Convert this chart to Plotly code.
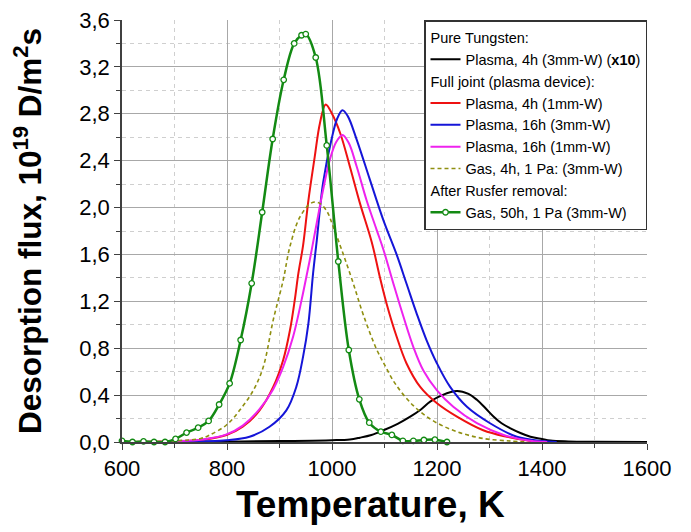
import plotly.graph_objects as go

# Temperature (K) and desorption flux (10^19 D/m2s)
t_black = [600, 700, 800, 900, 1000, 1034, 1053, 1075, 1098, 1125, 1149, 1170, 1187, 1210, 1238,
           1260, 1276, 1292, 1308, 1323, 1340, 1360, 1378, 1400, 1416, 1450, 1500, 1600]
f_black = [0.0, 0.001, 0.003, 0.008, 0.015, 0.022, 0.037, 0.06, 0.10, 0.155, 0.216, 0.28, 0.344, 0.40, 0.435,
           0.41, 0.36, 0.29, 0.216, 0.16, 0.117, 0.075, 0.045, 0.025, 0.012, 0.005, 0.002, 0.0]

t_red = [600, 650, 700, 754, 799, 830, 862, 888, 907, 920, 929, 936, 945, 955, 967, 977, 988,
         1000, 1016, 1034, 1053, 1076, 1091, 1104, 1123, 1142, 1168, 1200, 1238, 1288, 1333, 1370, 1400]
f_red = [0.0, 0.002, 0.006, 0.02, 0.06, 0.13, 0.27, 0.47, 0.70, 0.956, 1.21, 1.44, 1.68, 2.06, 2.43, 2.72, 2.88,
         2.80, 2.63, 2.35, 2.04, 1.70, 1.41, 1.18, 0.90, 0.67, 0.47, 0.33, 0.216, 0.10, 0.045, 0.015, 0.0]

t_blue = [600, 700, 799, 843, 881, 913, 932, 945, 955, 964, 971, 983, 999, 1010, 1020, 1030, 1047,
          1072, 1098, 1123, 1142, 1161, 1180, 1200, 1225, 1257, 1301, 1352, 1400, 1428]
f_blue = [0.0, 0.002, 0.015, 0.045, 0.13, 0.27, 0.47, 0.73, 1.01, 1.44, 1.72, 2.21, 2.58, 2.76, 2.83, 2.78, 2.58,
          2.24, 1.89, 1.60, 1.35, 1.10, 0.87, 0.67, 0.47, 0.30, 0.16, 0.045, 0.008, 0.0]

t_magenta = [600, 650, 700, 754, 799, 830, 862, 888, 907, 926, 942, 953, 961, 971, 983, 996, 1008, 1020,
             1032, 1047, 1066, 1085, 1098, 1117, 1136, 1155, 1174, 1200, 1231, 1276, 1327, 1378, 1410]
f_magenta = [0.0, 0.002, 0.007, 0.022, 0.065, 0.14, 0.28, 0.45, 0.64, 0.90, 1.21, 1.45, 1.63, 1.87, 2.15, 2.41, 2.56, 2.62,
             2.55, 2.35, 2.06, 1.81, 1.64, 1.35, 1.07, 0.81, 0.61, 0.44, 0.30, 0.16, 0.06, 0.01, 0.0]

t_gas4 = [600, 700, 750, 767, 799, 824, 850, 869, 888, 907, 920, 939, 961, 975, 990, 1002, 1020,
          1040, 1060, 1085, 1100, 1120, 1155, 1193, 1238, 1288, 1340, 1370]
f_gas4 = [0.0, 0.01, 0.03, 0.06, 0.145, 0.27, 0.44, 0.64, 1.04, 1.38, 1.67, 1.92, 2.04, 2.04, 1.97, 1.84, 1.62,
          1.36, 1.08, 0.79, 0.66, 0.50, 0.31, 0.18, 0.088, 0.03, 0.008, 0.0]

t_gas50 = [600, 620, 641, 661, 682, 702, 723, 745, 765, 785, 805, 826, 847, 867, 887, 908, 928, 942, 950,
           969, 990, 1012, 1032, 1052, 1071, 1093, 1114, 1135, 1155, 1175, 1196, 1219]
f_gas50 = [0.01, 0.0, 0.005, 0.0, 0.0, 0.026, 0.08, 0.122, 0.18, 0.32, 0.50, 0.87, 1.354, 1.96, 2.585, 3.09, 3.40, 3.47, 3.48,
           3.28, 2.53, 1.54, 0.785, 0.364, 0.165, 0.088, 0.06, 0.01, 0.01, 0.017, 0.02, 0.0]

font = "Liberation Sans, Arial, sans-serif"

fig = go.Figure()

# Pure tungsten
fig.add_trace(go.Scatter(x=t_black, y=f_black, mode="lines", line=dict(color="black", width=2, shape="spline"),
                         name="Plasma, 4h (3mm-W) (<b>x10</b>)",
                         legendgroup="pure", legendgrouptitle_text="Pure Tungsten:"))

# Full joint
fig.add_trace(go.Scatter(x=t_red, y=f_red, mode="lines", line=dict(color="#ee1111", width=2, shape="spline"),
                         name="Plasma, 4h (1mm-W)",
                         legendgroup="joint", legendgrouptitle_text="Full joint (plasma device):"))
fig.add_trace(go.Scatter(x=t_blue, y=f_blue, mode="lines", line=dict(color="#1515d8", width=2, shape="spline"),
                         name="Plasma, 16h (3mm-W)", legendgroup="joint"))
fig.add_trace(go.Scatter(x=t_magenta, y=f_magenta, mode="lines", line=dict(color="#ee22ee", width=2, shape="spline"),
                         name="Plasma, 16h (1mm-W)", legendgroup="joint"))
fig.add_trace(go.Scatter(x=t_gas4, y=f_gas4, mode="lines",
                         line=dict(color="#8f8f10", width=1.6, dash="4px,3px", shape="spline"),
                         name="Gas, 4h, 1 Pa: (3mm-W)", legendgroup="joint"))

# After Rusfer removal
fig.add_trace(go.Scatter(x=t_gas50, y=f_gas50, mode="lines+markers", cliponaxis=False,
                         line=dict(color="#138a13", width=2.5, shape="spline"),
                         marker=dict(symbol="circle", size=5.5, color="white", line=dict(color="#138a13", width=1.3)),
                         name="Gas, 50h, 1 Pa (3mm-W)",
                         legendgroup="rusfer", legendgrouptitle_text="After Rusfer removal:"))

# the page body adds an 8px offset, so the margins are shifted to compensate
fig.update_layout(
    width=691, height=532,
    margin=dict(l=114, r=52, t=12, b=98, autoexpand=False),
    paper_bgcolor="white", plot_bgcolor="white",
    separators=", ",
    font=dict(family=font, color="black"),
    showlegend=True,
    legend=dict(x=1.0, xanchor="right", y=1.0, yanchor="top",
                bgcolor="white", bordercolor="#333333", borderwidth=1.5,
                font=dict(size=14.5, family=font), traceorder="grouped", tracegroupgap=0,
                grouptitlefont=dict(size=14.5, family=font),
                itemwidth=30),
)

# x title sits a little left of the plot centre in the original
fig.add_annotation(text="<b>Temperature, K</b>", xref="paper", yref="paper", x=0.473, y=0,
                   xanchor="center", yanchor="middle", yshift=-62, showarrow=False,
                   font=dict(size=37, family=font, color="black"))

fig.update_xaxes(
    range=[600, 1600], dtick=200, tick0=600, automargin=False,
    showline=True, linecolor="#404040", linewidth=1.5,
    ticks="outside", ticklen=6, tickcolor="#404040",
    tickfont=dict(size=22), ticklabeloverflow="allow",
    showgrid=True, gridcolor="#a8a8a8", gridwidth=1, zeroline=False,
    minor=dict(dtick=100, ticks="outside", ticklen=4, tickcolor="#404040",
               showgrid=True, gridcolor="#cfcfcf", griddash="4px,4px"),
)

fig.update_yaxes(
    range=[0, 3.6], dtick=0.4, tick0=0, tickformat=".1f", automargin=False,
    showline=True, linecolor="#404040", linewidth=1.5,
    ticks="outside", ticklen=6, tickcolor="#404040",
    tickfont=dict(size=22), ticklabeloverflow="allow",
    showgrid=True, gridcolor="#a8a8a8", gridwidth=1, zeroline=False,
    minor=dict(dtick=0.2, ticks="outside", ticklen=4, tickcolor="#404040",
               showgrid=True, gridcolor="#cfcfcf", griddash="4px,4px"),
    title=dict(text="<b>Desorption flux, 10<sup>19</sup> D/m<sup>2</sup>s</b>", font=dict(size=31.5), standoff=30),
)

fig.write_html("out.html")
